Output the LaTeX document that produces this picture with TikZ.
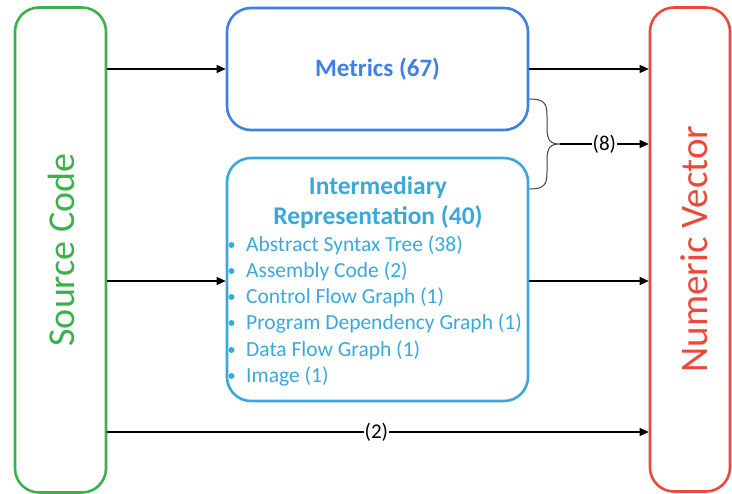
\documentclass[tikz,border=0pt]{standalone}
\usepackage{fontspec}
\setmainfont{Carlito}
\usetikzlibrary{arrows.meta,calc}
\definecolor{cgreen}{HTML}{3DB04E}
\definecolor{cblue}{HTML}{3F7FE6}
\definecolor{clblue}{HTML}{3AA9DA}
\definecolor{cred}{HTML}{EA4A3C}
\tikzset{
  box/.style={draw, line width=2.6pt, rounded corners=24pt, inner sep=0pt},
  arr/.style={-{Triangle[length=9pt,width=8pt]}, line width=1.2pt, black},
  lbl/.style={fill=white, inner sep=1pt, font=\fontsize{21}{23}\selectfont},
  item/.style={anchor=west, text=clblue, font=\fontsize{21.5}{23}\selectfont, inner sep=0pt},
  dot/.style={circle, fill=clblue, inner sep=0pt, minimum size=6pt}
}
\begin{document}
\begin{tikzpicture}[x=1pt,y=-1pt]
\useasboundingbox (0,0) rectangle (732,494);
% boxes
\node[box, draw=cgreen, minimum width=91pt, minimum height=485pt] (src) at (60.5,250) {};
\node[text=cgreen, rotate=90, font=\fontsize{38}{40}\selectfont] (srct) at (61,250) {Source Code};
\node[box, draw=cred, minimum width=80pt, minimum height=484pt] (nv) at (690,249.5) {};
\node[text=cred, rotate=90, font=\fontsize{39}{42}\selectfont] (nvt) at (694.5,249) {Numeric Vector};
\node[box, draw=cblue, minimum width=301pt, minimum height=122pt] (met) at (377.5,69) {};
\node[text=cblue, font=\bfseries\fontsize{25}{27}\selectfont] (mett) at (377.5,69) {Metrics (67)};
\node[box, draw=clblue, minimum width=301pt, minimum height=243pt] (ir) at (377.5,279.5) {};
\node[text=clblue, font=\bfseries\fontsize{25.5}{27}\selectfont] (irt1) at (378,188) {Intermediary};
\node[text=clblue, font=\bfseries\fontsize{25.5}{27}\selectfont] (irt2) at (378,217) {Representation (40)};
% items
\foreach \t/\y [count=\i] in {Abstract Syntax Tree (38)/245, Assembly Code (2)/271, Control Flow Graph (1)/297, Program Dependency Graph (1)/323, Data Flow Graph (1)/350, Image (1)/376}{
  \node[dot] (d\i) at (231.5,\y) {};
  \node[item] (it\i) at (246,\y) {\t};
}
% connectors
\draw[arr] (src.east |- met) -- (met.west);
\draw[arr] (met.east) -- (nv.west |- met);
\draw[arr] (src.east |- 0,281) -- (ir.west |- 0,281);
\draw[arr] (ir.east |- 0,281) -- (nv.west |- 0,281);
\draw[arr] (src.east |- 0,432) -- node[lbl, pos=0.497] (l2) {(2)} (nv.west |- 0,432);
% brace
\coordinate (btop) at (met.east |- 0,99);
\coordinate (bbot) at (ir.east |- 0,189);
\coordinate (btip) at (560,144);
\draw[line width=1pt, black!75] (btop) .. controls (545,99) and (547,104) .. (547,116) -- (547,128)
  .. controls (547,140) and (550,144) .. (btip)
  .. controls (550,144) and (547,148) .. (547,160) -- (547,172)
  .. controls (547,184) and (545,189) .. (bbot);
\draw[arr] (btip) -- node[lbl, pos=0.5] (l8) {(8)} (nv.west |- btip);
\end{tikzpicture}
\end{document}
